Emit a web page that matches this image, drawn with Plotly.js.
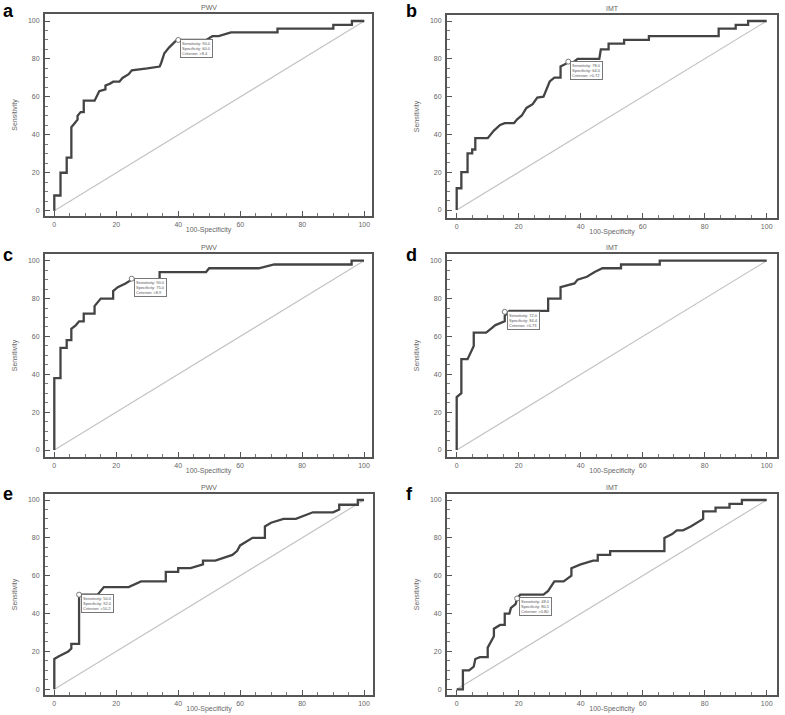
<!DOCTYPE html>
<html>
<head>
<meta charset="utf-8">
<script src="https://cdn.plot.ly/plotly-3.0.1.min.js"></script>
<style>
html,body{margin:0;padding:0;background:#fff;}
#chart{width:785px;height:715px;}
</style>
</head>
<body>
<div id="chart"></div>
<script>
// ---------------- DATA ----------------
const panelLetters = ["a", "b", "c", "d", "e", "f"];
const panelTitles = ["PWV", "IMT", "PWV", "IMT", "PWV", "IMT"];
const xAxisTitle = "100-Specificity";
const yAxisTitle = "Sensitivity";
const tickValues = [0, 20, 40, 60, 80, 100];
const tickLabels = ["0", "20", "40", "60", "80", "100"];

// ROC curve vertices (x = 100-Specificity, y = Sensitivity)
const rocA_x = [0,0,2,2,4,4,5.5,5.5,6.5,7.5,7.5,8.5,9.5,9.5,13,13.5,14.5,16.5,16.5,18,19,21,22,24,25,30,34,34.5,35.5,37,39.5,40,49,51,53,57,72,72,90,90,96,96,100];
const rocA_y = [0,8,8,20,20,28,28,44,46,48,50,52,52,58,58,60,63,64,66,67,68,68,70,72,74,75,76,78,83,86,90,90,90,92,92,94,94,96,96,98,98,100,100];

const rocB_x = [0,0,1.5,1.5,3.5,3.5,5,5,6,6,10,11,12,14,15.5,18.5,19.5,21,22.5,24.5,26,28,29,30,31.5,33.5,33.5,36,37.5,39,46,46.5,49,49,54,54,62,62,84.5,84.5,90,90,94,94,100];
const rocB_y = [0,11.5,11.5,20,20,30,30,32,32,38,38,40,42,45,46,46,48,50,54,56,59.5,60,64,68,70,70,76,78,78,80,80,85,85,88,88,90,90,92,92,96,96,98,98,100,100];

const rocC_x = [0,0,2,2,4,4,5.5,5.5,7,8,9.5,9.5,13,13,15,19,19,20.5,23,25,34,34,49,50,66,71,96,96,100];
const rocC_y = [0,38,38,54,54,58,58,64,66,68,68,72,72,76,80,80,84,86,88,90,90,94,94,96,96,98,98,100,100];

const rocD_x = [0,0,1.5,1.5,3.5,4.5,5.5,5.5,9.5,11,12.5,15.5,15.5,17,29.5,29.5,33.5,33.5,35.5,38,39,42,44.5,47,53,53,65.5,65.5,100];
const rocD_y = [0,28,30,48,48,52,55,62,62,64,66,68,71,73.5,73.5,80,80,86,87,88,90,91.5,94,96,96,98,98,100,100];

const rocE_x = [0,0,1.5,3.5,4.5,5.5,5.5,8,8,14,16,24,28,33,36,36,40,40,44,48,48,52,57.5,59,60,64,68,68,70,74,78,83.5,90,92,92,95,98,98,100];
const rocE_y = [0,16,17.5,19,20,21.5,24,24,50,50,54,54,57,57,57,62,62,64,64,66,68,68,71,73,76,80,80,86,88,90,90,93.5,93.5,95,97.5,97.5,97.5,100,100];

const rocF_x = [0,2,2,4,5.5,6,7.5,10,10,11,12,12,14,15.5,15.5,17,17.5,19,19.5,20.5,28,29.5,31.5,34.5,37,37,40,44,45.5,45.5,49.5,49.5,67,67,69.5,71,73,75.5,77.5,79.5,79.5,83.5,83.5,88,88,92,92,100];
const rocF_y = [0,0,10,10,12,16,17,17,22,25,28,32,34,34,40,40,43,45,48,50,50,52,57,57,60,64,66,68,68,71,71,73,73,80,82,84,84,86,88,90,94,94,96,96,98,98,100,100];

// optimal cut-off points (x = 100-Specificity, y = Sensitivity)
const cutX = [40, 36, 25, 15.5, 8, 19.5];
const cutY = [90, 78.5, 90.5, 73, 50, 48];
const cutSens = ["90.0", "78.0", "90.0", "72.0", "50.0", "48.0"];
const cutSpec = ["60.0", "64.0", "75.0", "84.4", "92.0", "80.5"];
const cutCrit = [">8.4", ">0.72", ">8.9", ">0.73", ">10.2", ">0.80"];

const diagX = [0, 100];
const diagY = [0, 100];

const rocX = [rocA_x, rocB_x, rocC_x, rocD_x, rocE_x, rocF_x];
const rocY = [rocA_y, rocB_y, rocC_y, rocD_y, rocE_y, rocF_y];

// ---------------- LAYOUT GEOMETRY (pixels) ----------------
const W = 785, H = 715;
const geom = [
  {l:45,  r:372, t:14,  b:216, x0:54.3,  x100:364.3, y0:210.7, y100:21},
  {l:447, r:777, t:15,  b:218, x0:456.7, x100:766.7, y0:210,   y100:21},
  {l:45,  r:372, t:254, b:457, x0:54.3,  x100:364,   y0:450,   y100:260.7},
  {l:447, r:777, t:254, b:457, x0:456.7, x100:766.7, y0:450,   y100:260.7},
  {l:45,  r:373, t:494, b:695, x0:54.3,  x100:364,   y0:689.3, y100:500},
  {l:447, r:777, t:494, b:695, x0:456.7, x100:766.7, y0:689.3, y100:500}
];
// top edge of each panel letter's text box
const letterPos = [[2,0.5],[405,0.5],[2,244],[405,244],[2,483],[405,483]];

const FONT = "Liberation Sans, Arial, sans-serif";
const traces = [];
const layout = {
  width: W, height: H,
  margin: {l:0, r:0, t:0, b:0},
  paper_bgcolor: "#ffffff",
  plot_bgcolor: "#ffffff",
  showlegend: false,
  font: {family: FONT, color: "#555"},
  annotations: [],
  shapes: []
};

geom.forEach((g, i) => {
  const n = i + 1;
  const xa = "xaxis" + (n === 1 ? "" : n);
  const ya = "yaxis" + (n === 1 ? "" : n);
  const xr = "x" + (n === 1 ? "" : n);
  const yr = "y" + (n === 1 ? "" : n);
  const sx = (g.x100 - g.x0) / 100;
  const sy = (g.y0 - g.y100) / 100;
  const axCommon = {
    showgrid: false, zeroline: false,
    showline: true, mirror: true, linecolor: "#555", linewidth: 2,
    ticks: "inside", ticklen: 5, tickwidth: 1, tickcolor: "#555",
    tickvals: tickValues, ticktext: tickLabels,
    tickfont: {size: 7, color: "#666", family: FONT},
    minor: {dtick: 5, tick0: 0, ticks: "inside", ticklen: 3, tickcolor: "#777", tickwidth: 1},
    fixedrange: true
  };
  layout[xa] = Object.assign({}, axCommon, {
    domain: [g.l / W, g.r / W],
    range: [(g.l - g.x0) / sx, (g.r - g.x0) / sx],
    anchor: yr,
    ticklabelstandoff: 1,
    title: {text: xAxisTitle, font: {size: 7, color: "#666", family: FONT}, standoff: 0}
  });
  layout[ya] = Object.assign({}, axCommon, {
    domain: [1 - g.b / H, 1 - g.t / H],
    range: [(g.y0 - g.b) / sy, (g.y0 - g.t) / sy],
    anchor: xr,
    ticklabelstandoff: 2,
    title: {text: yAxisTitle, font: {size: 7, color: "#666", family: FONT}, standoff: 9}
  });

  // diagonal reference line
  traces.push({
    x: diagX, y: diagY, xaxis: xr, yaxis: yr,
    mode: "lines", line: {color: "#c4c4c4", width: 1.2}, hoverinfo: "skip"
  });
  // ROC curve
  traces.push({
    x: rocX[i], y: rocY[i], xaxis: xr, yaxis: yr,
    mode: "lines", line: {color: "#444", width: 2.3, shape: "linear"}, hoverinfo: "skip"
  });
  // cut-off marker
  traces.push({
    x: [cutX[i]], y: [cutY[i]], xaxis: xr, yaxis: yr,
    mode: "markers",
    marker: {symbol: "circle", size: 5, color: "#fff", line: {color: "#777", width: 1}},
    hoverinfo: "skip"
  });
  // cut-off info box
  layout.annotations.push({
    xref: xr, yref: yr, x: cutX[i], y: cutY[i],
    xanchor: "left", yanchor: "top", xshift: 2, yshift: 1,
    showarrow: false, align: "left",
    text: "Sensitivity: " + cutSens[i] + "<br>Specificity: " + cutSpec[i] + "<br>Criterion: " + cutCrit[i],
    font: {size: 4, color: "#555", family: FONT},
    bordercolor: "#777", borderwidth: 1, borderpad: 1, bgcolor: "#fff"
  });
  // panel title
  layout.annotations.push({
    xref: "paper", yref: "paper",
    x: ((g.l + g.r) / 2) / W, y: 1 - (g.t - 1) / H,
    xanchor: "center", yanchor: "bottom", showarrow: false,
    text: panelTitles[i], font: {size: 7, color: "#666", family: FONT}
  });
  // panel letter
  layout.annotations.push({
    xref: "paper", yref: "paper",
    x: letterPos[i][0] / W, y: 1 - letterPos[i][1] / H,
    xanchor: "left", yanchor: "top", borderpad: 0, showarrow: false,
    text: "<b>" + panelLetters[i] + "</b>",
    font: {size: 18, color: "#000", family: FONT}
  });
});

Plotly.newPlot("chart", traces, layout, {staticPlot: true, displayModeBar: false});
</script>
</body>
</html>
